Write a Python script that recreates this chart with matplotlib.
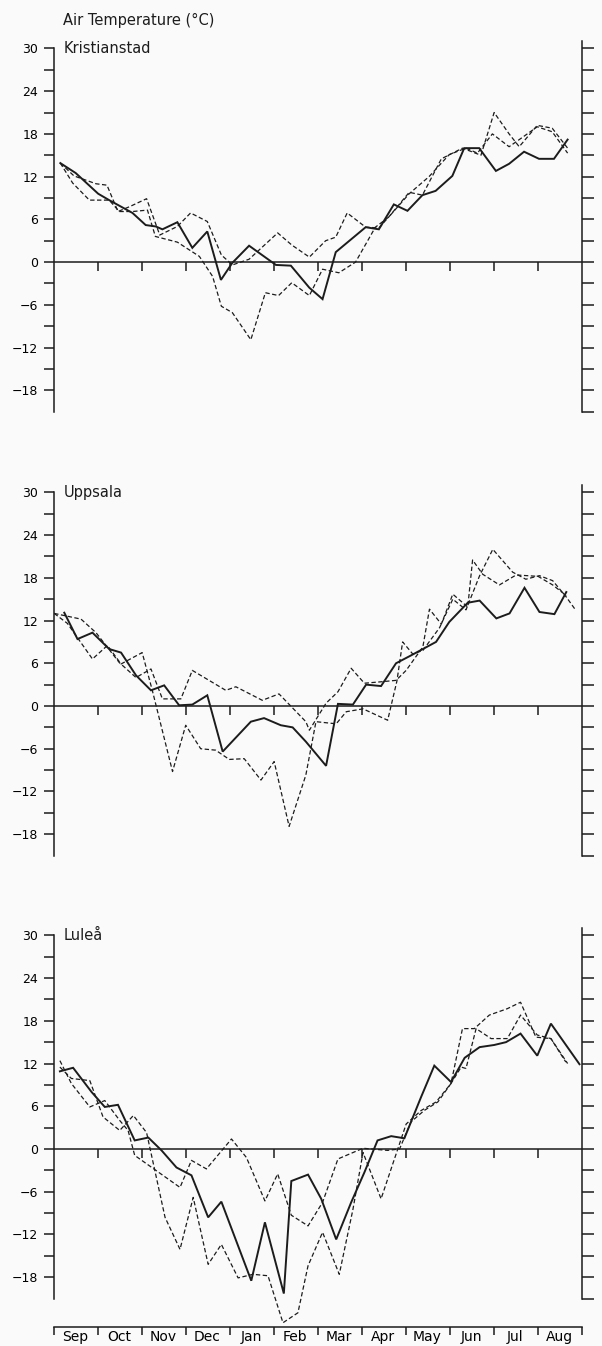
"""
Air temperature at three Swedish stations, Sep - Aug (one solid and two dashed years).
"""
import matplotlib
matplotlib.use("Agg")
import matplotlib.pyplot as plt
import numpy as np

# x values are in months since 1 Sep
months = ["Sep", "Oct", "Nov", "Dec", "Jan", "Feb", "Mar", "Apr", "May", "Jun", "Jul", "Aug"]
yticks_major = [-18, -12, -6, 0, 6, 12, 18, 24, 30]

# Kristianstad
kri_solid_x = [0.14, 0.49, 1.0, 1.25, 1.78, 2.08, 2.31, 2.46, 2.8, 3.14, 3.48, 3.79, 4.05, 4.43,
               5.04, 5.38, 5.8, 6.1, 6.4, 7.08, 7.38, 7.72, 8.03, 8.37, 8.67, 9.05, 9.32, 9.66,
               10.04, 10.34, 10.68, 11.02, 11.36, 11.67]
kri_solid_y = [13.9, 12.5, 9.6, 8.7, 6.9, 5.2, 5.0, 4.6, 5.6, 2.0, 4.3, -2.5, -0.1, 2.3,
               -0.4, -0.5, -3.6, -5.2, 1.4, 4.9, 4.6, 8.1, 7.2, 9.4, 10.0, 12.1, 16.0, 16.0,
               12.8, 13.8, 15.5, 14.5, 14.5, 17.2]
kri_dash1_x = [0.14, 0.42, 0.8, 1.25, 1.48, 1.78, 2.12, 2.3, 2.8, 3.3, 3.6, 3.8, 4.05, 4.47,
               4.8, 5.1, 5.4, 5.8, 6.1, 6.47, 6.85, 7.3, 7.6, 8.07, 8.52, 8.98, 9.36, 9.62,
               9.96, 10.34, 10.64, 10.98, 11.32, 11.67]
kri_dash1_y = [13.9, 11.1, 8.7, 8.7, 7.1, 7.1, 7.3, 3.6, 2.8, 0.8, -2.0, -6.2, -7.1, -10.9,
               -4.3, -4.7, -2.9, -4.7, -1.0, -1.5, 0.0, 4.9, 6.3, 9.6, 12.0, 15.1, 16.0, 15.3,
               18.0, 16.2, 17.5, 19.0, 18.3, 15.3]
kri_dash2_x = [0.14, 0.45, 0.95, 1.2, 1.45, 1.72, 2.1, 2.4, 2.8, 3.1, 3.48, 3.8, 4.05, 4.43,
               5.08, 5.4, 5.8, 6.17, 6.4, 6.66, 7.08, 7.38, 7.6, 8.07, 8.37, 8.8, 9.28, 9.7,
               10.0, 10.34, 10.57, 10.98, 11.32, 11.67]
kri_dash2_y = [13.9, 12.1, 11.0, 10.8, 7.1, 7.8, 8.9, 3.8, 5.0, 6.9, 5.7, 1.0, -0.4, 0.4,
               4.1, 2.4, 0.7, 3.0, 3.5, 6.9, 4.9, 4.8, 6.3, 9.8, 9.4, 14.5, 16.0, 15.0,
               21.0, 18.0, 16.2, 19.2, 18.8, 16.0]

# Uppsala
upp_solid_x = [0.23, 0.53, 0.87, 1.25, 1.52, 1.86, 2.2, 2.5, 2.84, 3.14, 3.48, 3.83, 4.47, 4.77,
               5.15, 5.42, 5.72, 6.18, 6.45, 6.79, 7.09, 7.43, 7.77, 8.11, 8.38, 8.68, 8.98,
               9.4, 9.67, 10.05, 10.35, 10.69, 11.03, 11.37, 11.64]
upp_solid_y = [13.1, 9.4, 10.3, 8.0, 7.5, 4.3, 2.2, 2.9, 0.1, 0.2, 1.5, -6.4, -2.2, -1.7,
               -2.7, -3.0, -5.0, -8.4, 0.3, 0.2, 3.0, 2.8, 6.0, 7.1, 8.0, 9.0, 11.8,
               14.5, 14.8, 12.3, 13.0, 16.6, 13.2, 12.9, 16.0]
upp_dash1_x = [0.0, 0.3, 0.87, 1.21, 1.52, 2.0, 2.23, 2.69, 2.99, 3.33, 3.67, 3.98, 4.32, 4.7,
               5.0, 5.34, 5.72, 5.95, 6.41, 6.64, 7.02, 7.58, 7.79, 7.92, 8.15, 8.38, 8.76,
               9.06, 9.36, 9.67, 9.97, 10.42, 10.72, 11.03, 11.33, 11.64, 11.86]
upp_dash1_y = [13.0, 11.6, 6.6, 8.5, 5.9, 7.5, 2.2, -9.2, -2.7, -6.0, -6.2, -7.5, -7.4, -10.4,
               -7.8, -16.9, -9.7, -2.2, -2.5, -0.8, -0.4, -2.0, 3.5, 9.0, 7.3, 7.8, 11.0,
               15.0, 13.5, 18.3, 22.0, 18.8, 17.8, 18.3, 17.6, 15.3, 13.4]
upp_dash2_x = [0.0, 0.61, 0.95, 1.48, 1.86, 2.2, 2.46, 2.88, 3.14, 3.9, 4.13, 4.73, 5.11, 5.72,
               5.8, 6.18, 6.45, 6.75, 7.05, 7.43, 7.77, 8.0, 8.38, 8.53, 8.8, 9.06, 9.4,
               9.51, 9.74, 10.12, 10.5, 11.0, 11.33, 11.64]
upp_dash2_y = [13.0, 12.2, 10.3, 6.1, 4.0, 5.2, 1.0, 1.0, 5.0, 2.2, 2.7, 0.8, 1.7, -2.2,
               -3.4, 0.4, 2.0, 5.3, 3.2, 3.4, 3.6, 5.0, 8.3, 13.6, 11.5, 15.7, 13.9,
               20.5, 18.5, 17.0, 18.4, 18.2, 17.0, 15.5]

# Luleå
lul_solid_x = [0.13, 0.43, 0.85, 1.15, 1.45, 1.83, 2.14, 2.44, 2.78, 3.12, 3.5, 3.8, 4.48, 4.79,
               5.22, 5.39, 5.77, 6.07, 6.41, 6.75, 7.05, 7.35, 7.66, 7.96, 8.34, 8.64, 9.02,
               9.33, 9.67, 10.0, 10.27, 10.6, 10.98, 11.29, 11.94]
lul_solid_y = [10.9, 11.4, 8.0, 5.9, 6.2, 1.2, 1.6, -0.2, -2.6, -3.7, -9.6, -7.4, -18.5, -10.3,
               -20.3, -4.5, -3.6, -7.0, -12.7, -7.5, -3.3, 1.2, 1.8, 1.5, 7.3, 11.7, 9.4,
               12.8, 14.3, 14.6, 15.0, 16.2, 13.1, 17.6, 11.9]
lul_dash1_x = [0.13, 0.39, 0.81, 1.15, 1.49, 1.68, 1.83, 2.86, 3.12, 3.46, 4.03, 4.37, 4.79,
               5.08, 5.39, 5.77, 6.1, 6.45, 7.02, 7.58, 7.85, 8.11, 8.41, 8.72, 9.02, 9.28,
               9.55, 9.89, 10.3, 10.6, 10.95, 11.29, 11.67]
lul_dash1_y = [12.4, 9.2, 5.9, 6.8, 4.0, 2.6, -0.9, -5.4, -1.6, -2.8, 1.4, -1.2, -7.3,
               -3.5, -9.3, -10.8, -7.5, -1.4, 0.1, -0.2, 0.0, 3.8, 5.4, 6.6, 9.2, 16.9,
               16.9, 18.8, 19.7, 20.6, 15.7, 15.5, 12.0]
lul_dash2_x = [0.13, 0.39, 0.81, 1.11, 1.49, 1.8, 2.1, 2.52, 2.86, 3.16, 3.5, 3.8, 4.18, 4.52,
               4.86, 5.2, 5.54, 5.77, 6.1, 6.48, 6.79, 7.02, 7.43, 7.81, 8.0, 8.34, 8.68,
               9.02, 9.25, 9.36, 9.59, 9.93, 10.3, 10.6, 10.98, 11.29, 11.63]
lul_dash2_y = [11.5, 9.9, 9.6, 4.5, 2.6, 4.7, 2.3, -9.6, -14.1, -6.8, -16.2, -13.4, -18.1, -17.6,
               -17.8, -24.4, -23.0, -16.4, -11.7, -17.6, -8.5, -0.5, -7.0, 0.0, 3.5, 5.4, 6.6,
               9.2, 11.5, 11.3, 16.9, 15.5, 15.5, 18.8, 16.0, 15.5, 12.2]

INK = "#1c1c1c"
BG = "#fafafa"


def draw_panel(ax, name, solid, dash1, dash2, month_axis=False):
    ax.set_facecolor(BG)
    ax.plot(*solid, color=INK, lw=1.4, solid_joinstyle="miter")
    ax.plot(*dash1, color=INK, lw=0.9, dashes=(3.5, 2))
    ax.plot(*dash2, color=INK, lw=0.9, dashes=(3.5, 2))

    ax.axhline(0, color=INK, lw=1.1)
    ax.vlines(np.arange(1, 12), -1.3, 0, color=INK, lw=1.1)

    ax.set_xlim(0, 12)
    ax.set_ylim(-25, 32)
    ax.set_yticks(yticks_major)
    ax.set_yticklabels([str(v).replace("-", "\u2212") for v in yticks_major], fontsize=9)
    ax.set_yticks(np.arange(-18, 31, 3), minor=True)
    ax.tick_params(axis="y", which="both", direction="out", length=7.5, width=1.1,
                   color=INK, pad=4)

    for s in ["top", "right"]:
        ax.spines[s].set_visible(False)
    ax.spines["left"].set_bounds(-21, 30)
    ax.spines["left"].set_linewidth(1.1)
    ax.spines["left"].set_color(INK)

    if month_axis:
        ax.spines["bottom"].set_linewidth(1.1)
        ax.spines["bottom"].set_color(INK)
        ax.set_xticks(np.arange(0, 13))
        ax.set_xticklabels([])
        ax.set_xticks(np.arange(12) + 0.48, minor=True)
        ax.set_xticklabels(months, minor=True, fontsize=10)
        ax.tick_params(axis="x", which="major", direction="out", length=6, width=1.1, color=INK)
        ax.tick_params(axis="x", which="minor", length=0, pad=2)
    else:
        ax.spines["bottom"].set_visible(False)
        ax.tick_params(axis="x", which="both", bottom=False, labelbottom=False)

    # right axis: unlabelled ticks every 3 degrees
    tw = ax.twinx()
    tw.set_ylim(ax.get_ylim())
    tw.set_yticks(np.arange(-21, 31, 3))
    tw.set_yticklabels([])
    tw.tick_params(axis="y", direction="out", length=8.5, width=1.1, color=INK)
    for s in ["top", "left", "bottom"]:
        tw.spines[s].set_visible(False)
    tw.spines["right"].set_bounds(-21, 31)
    tw.spines["right"].set_linewidth(1.1)
    tw.spines["right"].set_color(INK)

    ax.text(0.22, 30, name, fontsize=10.5, va="center", ha="left", color=INK)


fig = plt.figure(figsize=(6.02, 13.46), dpi=100, facecolor=BG)
left, width, height = 0.09, 0.877, 0.3016
ax1 = fig.add_axes([left, 0.673, width, height])
ax2 = fig.add_axes([left, 0.3432, width, height])
ax3 = fig.add_axes([left, 0.0141, width, height])

draw_panel(ax1, "Kristianstad", (kri_solid_x, kri_solid_y), (kri_dash1_x, kri_dash1_y),
           (kri_dash2_x, kri_dash2_y))
draw_panel(ax2, "Uppsala", (upp_solid_x, upp_solid_y), (upp_dash1_x, upp_dash1_y),
           (upp_dash2_x, upp_dash2_y))
draw_panel(ax3, "Luleå", (lul_solid_x, lul_solid_y), (lul_dash1_x, lul_dash1_y),
           (lul_dash2_x, lul_dash2_y), month_axis=True)

fig.text(63 / 602, 1 - 20 / 1346, "Air Temperature (°C)", fontsize=10.5, va="center",
         ha="left", color=INK)

plt.savefig("out.png", dpi=100, facecolor=BG)
plt.close()
